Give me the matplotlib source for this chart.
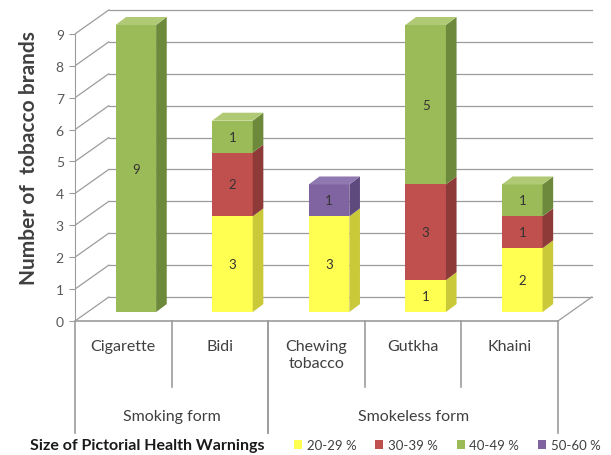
"""Stacked pseudo-3D bar chart: tobacco brands by size of pictorial health warning."""

import matplotlib

matplotlib.use("Agg")
import matplotlib.pyplot as plt
import numpy as np
from matplotlib.patches import Patch, Polygon

plt.rcParams["font.family"] = ["Lato", "DejaVu Sans"]

# data
categories = ["Cigarette", "Bidi", "Chewing\ntobacco", "Gutkha", "Khaini"]
groups = ["Smoking form", "Smokeless form"]
group_spans = [(0, 1), (2, 4)]  # first / last category index of each group
series_names = ["20-29 %", "30-39 %", "40-49 %", "50-60 %"]
pct_20_29 = [0, 3, 3, 1, 2]
pct_30_39 = [0, 2, 0, 3, 1]
pct_40_49 = [9, 1, 0, 5, 1]
pct_50_60 = [0, 0, 1, 0, 0]
y_ticks = list(range(10))

# colours: front, side, top
front_colors = ["#FFFF52", "#C0504D", "#9BBB59", "#8064A2"]
side_colors = ["#C9C93A", "#8E3A38", "#6D8A3C", "#5E4A7D"]
top_colors = ["#FFFF80", "#CD6A67", "#AFC975", "#9079B0"]

# pseudo-3D geometry (data units)
WALL_DX, WALL_DY = 0.35, 0.75
BAR_OFF, BAR_W, BAR_BASE = 0.13, 0.42, 0.28
SIDE_DX, SIDE_DY = 0.11, 0.25
GRID_COLOR = "#9C9C9C"

fig = plt.figure(figsize=(6.11, 4.56), dpi=100)
ax = fig.add_axes([0.1227, 0.0421, 0.8696, 0.9478])
ax.set_xlim(-0.5, 5.0)
ax.set_ylim(-3.6, 9.95)

n = len(categories)
x_left, x_right = -0.5, n - 0.5

# walls and floor
for v in y_ticks:
    ax.plot([x_left + WALL_DX, x_right + WALL_DX], [v + WALL_DY] * 2,
            color=GRID_COLOR, lw=0.9, zorder=1)
    ax.plot([x_left, x_left + WALL_DX], [v, v + WALL_DY],
            color=GRID_COLOR, lw=0.9, zorder=1)
ax.plot([x_left, x_right], [0, 0], color=GRID_COLOR, lw=1.2, zorder=1)
ax.plot([x_right, x_right + WALL_DX], [0, WALL_DY], color=GRID_COLOR, lw=0.9, zorder=1)

# stacked bars
series = [pct_20_29, pct_30_39, pct_40_49, pct_50_60]
totals = np.sum(series, axis=0)
cum = np.zeros(n)
for s, vals in enumerate(series):
    vals = np.asarray(vals, dtype=float)
    xs = np.arange(n) + BAR_OFF
    ax.bar(xs, vals, width=BAR_W, bottom=BAR_BASE + cum,
           color=front_colors[s], edgecolor="none", zorder=3)
    for i, v in enumerate(vals):
        if v == 0:
            continue
        b = BAR_BASE + cum[i]
        t = b + v
        xl, xr = xs[i] - BAR_W / 2, xs[i] + BAR_W / 2
        ax.add_patch(Polygon([(xr, b), (xr + SIDE_DX, b + SIDE_DY),
                              (xr + SIDE_DX, t + SIDE_DY), (xr, t)],
                             closed=True, facecolor=side_colors[s],
                             edgecolor="none", zorder=3))
        if cum[i] + v == totals[i]:
            ax.add_patch(Polygon([(xl, t), (xr, t), (xr + SIDE_DX, t + SIDE_DY),
                                  (xl + SIDE_DX, t + SIDE_DY)],
                                 closed=True, facecolor=top_colors[s],
                                 edgecolor="none", zorder=3))
        ax.text(xs[i], b + v / 2, f"{int(v)}", ha="center", va="center",
                fontsize=9.5, color="#333333", zorder=4)
    cum += vals

# y axis
for side in ["top", "right", "bottom"]:
    ax.spines[side].set_visible(False)
ax.spines["left"].set_bounds(0, 9)
ax.spines["left"].set_color(GRID_COLOR)
ax.set_xticks([])
ax.set_yticks(y_ticks)
ax.tick_params(axis="y", length=4, color=GRID_COLOR, labelcolor="#595959",
               labelsize=10, pad=4)
ax.set_ylabel("Number of  tobacco brands", fontsize=15, fontweight="bold",
              color="#404040")
ax.yaxis.set_label_coords(-0.068, 0.645)

# category table below the floor
for b in range(1, n):
    is_group_edge = any(b == g[0] for g in group_spans)
    if not is_group_edge:
        ax.plot([b - 0.5, b - 0.5], [0, -2.07], color=GRID_COLOR, lw=1.2,
                clip_on=False)
for g0, g1 in group_spans:
    for edge in (g0 - 0.5, g1 + 0.5):
        ax.plot([edge, edge], [0, -3.5], color=GRID_COLOR, lw=1.2, clip_on=False)
for i, name in enumerate(categories):
    ax.text(i, -0.58, name, ha="center", va="top", fontsize=11.5,
            color="#404040", linespacing=1.2)
for name, (g0, g1) in zip(groups, group_spans):
    ax.text((g0 + g1) / 2, -2.98, name, ha="center", va="center",
            fontsize=11.5, color="#404040")

# legend
legend_y = 1 - 446 / 456
fig.text(30 / 611, legend_y, "Size of Pictorial Health Warnings",
         fontsize=11.5, fontweight="bold", color="#1a1a1a", va="center")
handles = [Patch(facecolor=c, edgecolor="none") for c in front_colors]
fig.legend(handles, series_names, loc="center left",
           bbox_to_anchor=(294 / 611, legend_y), ncol=4, frameon=False,
           fontsize=9.5, handlelength=0.6, handleheight=0.6, handletextpad=0.35,
           columnspacing=1.45, borderaxespad=0, borderpad=0,
           labelcolor="#404040")

fig.savefig("out.png", dpi=100)
